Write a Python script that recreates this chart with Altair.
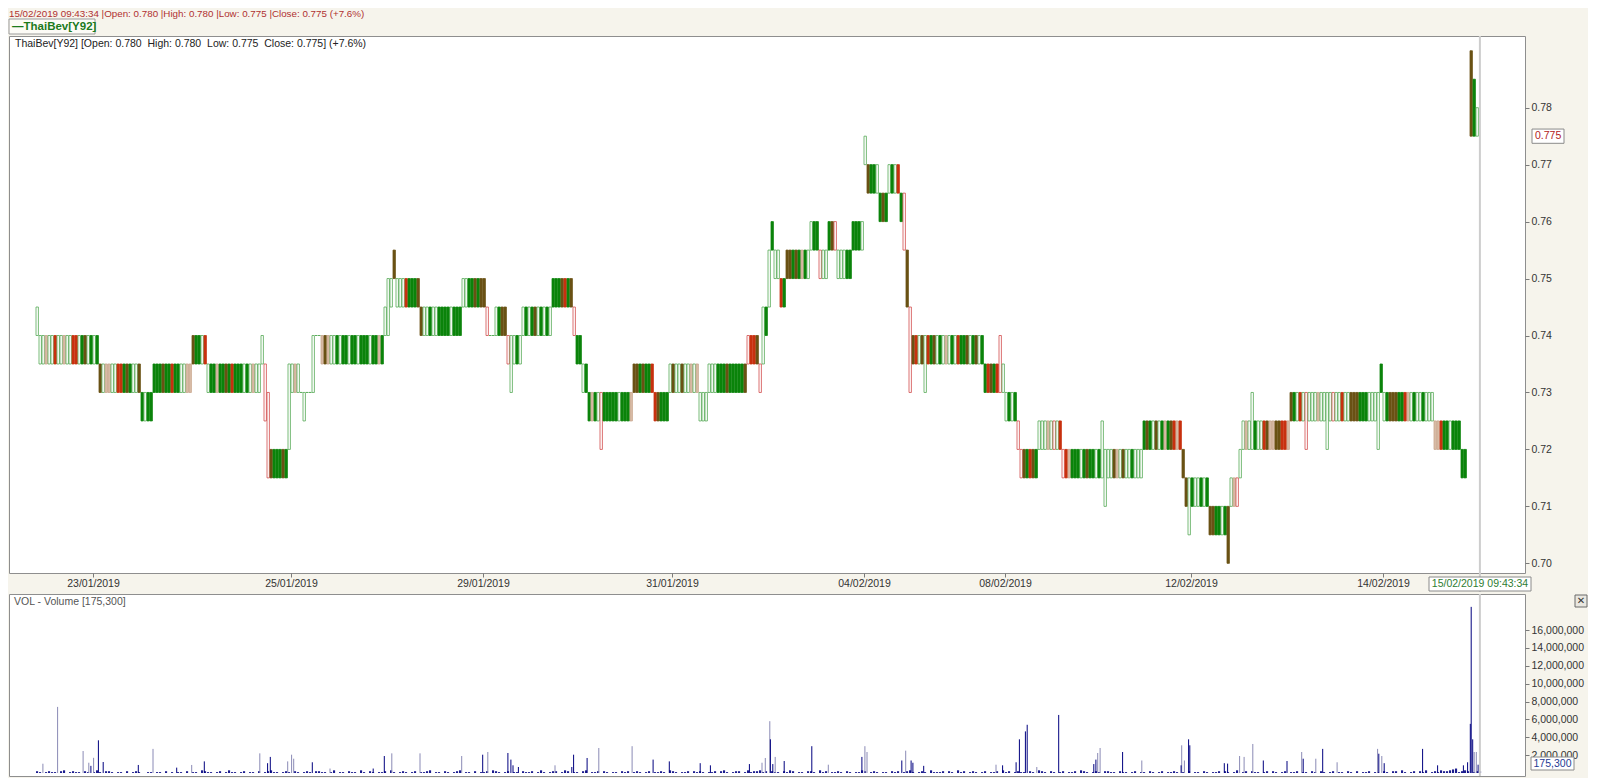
import altair as alt
import pandas as pd

# ---------------- layout (pixels) ----------------
W_PLOT = 1516
H_PRICE = 537
H_VOL = 182
FONT = "Liberation Sans"

# ---------------- texts ----------------
header_text = "15/02/2019 09:43:34 |Open: 0.780 |High: 0.780 |Low: 0.775 |Close: 0.775 (+7.6%)"
legend_text = "\u2014ThaiBev[Y92]"
info_text = "ThaiBev[Y92] [Open: 0.780\u00a0\u00a0High: 0.780\u00a0\u00a0Low: 0.775\u00a0\u00a0Close: 0.775] (+7.6%)"
vol_text = "VOL - Volume [175,300]"
last_time_text = "15/02/2019 09:43:34"
last_close = 0.775
last_volume_text = "175,300"

# ---------------- x axis (bar slots) ----------------
date_tick_slot = [29, 95, 159, 222, 286, 333, 395, 459]
date_tick_label = ["23/01/2019", "25/01/2019", "29/01/2019", "31/01/2019",
                   "04/02/2019", "08/02/2019", "12/02/2019", "14/02/2019"]
cursor_slot = [491.3]

price_ticks = [0.70, 0.71, 0.72, 0.73, 0.74, 0.75, 0.76, 0.77, 0.78]
volume_ticks = [2e6, 4e6, 6e6, 8e6, 10e6, 12e6, 14e6, 16e6]

# ---------------- price bars: runs of consecutive bars ----------------
# codes: G green, O olive, R red, T tan, W white/green outline, L white/red outline
run_start = [
    10, 11, 31, 45, 49, 62, 67, 85, 86, 87,
    88, 94, 95, 98, 99, 100, 102, 103, 105, 126,
    127, 128, 129, 130, 132, 138, 152, 160, 161, 163,
    167, 168, 169, 172, 182, 189, 190, 192, 194, 198,
    199, 209, 216, 221, 231, 234, 237, 247, 251, 252,
    253, 254, 255, 256, 258, 260, 268, 271, 274, 277,
    282, 286, 287, 291, 294, 298, 299, 300, 301, 302,
    306, 307, 326, 331, 332, 333, 337, 338, 344, 352,
    365, 366, 367, 379, 392, 393, 394, 395, 401, 407,
    408, 411, 412, 415, 416, 428, 433, 434, 440, 441,
    457, 458, 459, 476, 485, 488, 489, 490,
]
run_low = [
    .740, .735, .730, .725, .730, .735, .730, .735, .725, .715,
    .715, .720, .730, .730, .725, .730, .730, .740, .735, .740,
    .740, .745, .750, .745, .745, .740, .745, .740, .740, .740,
    .735, .730, .735, .740, .745, .740, .735, .730, .725, .720,
    .725, .730, .725, .730, .725, .730, .730, .735, .730, .735,
    .740, .745, .755, .750, .745, .750, .755, .750, .755, .750,
    .755, .770, .765, .760, .765, .760, .755, .745, .730, .735,
    .730, .735, .730, .730, .730, .725, .720, .715, .720, .715,
    .715, .710, .715, .720, .715, .710, .705, .710, .705, .700,
    .710, .715, .720, .720, .720, .725, .720, .725, .720, .725,
    .720, .730, .725, .720, .715, .775, .775, .775,
]
run_high = [
    .745, .740, .735, .730, .735, .740, .735, .740, .735, .730,
    .720, .735, .735, .730, .730, .730, .740, .740, .740, .745,
    .750, .750, .755, .750, .750, .745, .750, .745, .740, .745,
    .740, .740, .740, .745, .750, .745, .740, .735, .730, .730,
    .730, .735, .730, .735, .730, .735, .735, .740, .735, .745,
    .745, .755, .760, .755, .750, .755, .760, .755, .760, .755,
    .760, .775, .770, .765, .770, .765, .765, .755, .745, .740,
    .740, .740, .735, .740, .735, .730, .725, .720, .725, .720,
    .725, .720, .720, .725, .720, .715, .715, .715, .710, .710,
    .715, .720, .725, .730, .725, .730, .730, .730, .730, .730,
    .730, .735, .730, .725, .720, .790, .785, .780,
]
run_bars = [
    "W", "WWTWWRWWTWWRRWGOWGWG", "OWTTWWRRGOGWWO", "GWGG", "GGGOGGRGGWWTT",
    "OGGWR", "WGGTGGOGRGGGWGWTWW", "W", "L", "L",
    "OGGGOG", "W", "WTW", "W", "W", "WW", "W", "WW", "TOTWWGWGGWGGWGGGWGGTG", "W",
    "W", "W", "O", "WW", "WRGGGO", "OWWGWWGGGGWGGG", "WWGGOGOO", "L", "WW", "WGOO",
    "L", "W", "WGW", "WGWGOWGWGW", "GGGORGO", "L", "GG", "WG", "GTGW", "L",
    "GGGGGWGGGT", "OOGOGGR", "ROGGG", "WOWWOWWTWT", "WWW", "WWW", "GGGOGGGGGO", "LRRO", "L", "W",
    "G", "W", "G", "WW", "RG", "OOGOGTGW", "WGG", "LWW", "GOL", "WWWGG",
    "GGGW", "W", "OGGW", "GOG", "WGWR", "G", "L", "O", "L", "ORWO",
    "W", "RGOWGWTWGWRGGOWGOWG", "GROGR", "L", "W", "WGWG", "L", "LOGROG", "WWWTWLWR", "LRTGGGWGOGGWG",
    "W", "W", "WWOTWOWWGWWW", "GOGWOWGTGORTR", "O", "O", "W", "GWWGWG", "OOGGWG", "O",
    "WTL", "W", "WTW", "W", "GWWROTTOORRT", "OGWRW", "L", "WWWTWW", "W", "WLWWRWWOOOGGGWWW",
    "W", "G", "WGOOOGGRTWGWWGWWW", "TTRGGWGGG", "GG", "O", "G", "W",
]

bar_codes = ["G", "O", "R", "T", "W", "L"]
bar_fill = ["#0B840B", "#6A5214", "#C8310F", "#D9BDA8", "#FFFFFF", "#FFFFFF"]
bar_stroke = ["#0B840B", "#6A5214", "#C8310F", "#C8A48C", "#55A955", "#D24C4C"]

# ---------------- volume ----------------
# small per-bar volumes, tenths of a million, starting at slot 10
vol_small_digits = (
    "210121102301211021013102210110201210011011020101102011032110"
    "120131101201102012311012102101210221101301102110310210112031"
    "012101201123011021012301102011203210120110211201310122013201"
    "102301120210110212012101201121032101120212101120231012201312"
    "231202110213201102210312011210210113201210110212012310121031"
    "112021031201210120112031201211021032102101201120321012102211"
    "021101201102101201121010201102101120210130120211012021012011"
    "20110210210120110210201120110210220310120213012132234512320122"
)
vol_small_start = 10

vol_slot = [
    12.3, 17.2, 25.7, 27.6, 28.3, 29.2, 30.8, 32.4, 44.1, 49.0,
    56.9, 61.9, 66.1, 84.6, 87.2, 88.1, 93.9, 95.2, 95.9, 102.1,
    108.0, 122.4, 126.1, 128.6, 138.0, 151.9, 158.9, 160.6, 167.3, 168.3,
    169.0, 170.8, 183.0, 188.6, 189.2, 193.7, 197.6, 208.7, 215.7, 221.1,
    231.4, 234.8, 247.8, 252.0, 253.1, 254.6, 254.8, 255.6, 256.4, 259.4,
    268.6, 274.1, 285.3, 286.3, 287.0, 298.6, 299.9, 301.7, 302.3, 305.9,
    330.0, 332.2, 336.7, 337.8, 339.8, 340.4, 343.6, 350.9, 362.6, 363.3,
    363.9, 364.7, 372.2, 378.6, 391.7, 391.9, 392.8, 394.2, 394.6, 406.1,
    407.2, 411.2, 412.7, 415.6, 419.1, 427.0, 431.9, 432.4, 436.6, 438.9,
    443.7, 457.2, 457.6, 458.6, 459.4, 472.2, 477.2, 485.8, 487.2, 488.1,
    488.4, 488.9, 489.4, 490.1, 490.7,
]
vol_million = [
    1.04, 7.4, 2.46, 1.15, 0.8, 1.7, 3.66, 1.23, 0.9, 2.7,
    0.6, 0.9, 1.3, 2.2, 1.1, 1.8, 1.3, 2.05, 1.6, 1.2,
    0.5, 0.5, 1.9, 2.2, 2.2, 1.9, 2.05, 2.35, 2.24, 1.5,
    0.86, 0.67, 0.86, 0.67, 2.05, 1.68, 2.8, 3.0, 1.5, 1.3,
    1.1, 0.86, 1.0, 1.15, 1.68, 5.8, 3.77, 1.0, 1.8, 1.34,
    3.0, 0.93, 1.8, 3.0, 2.35, 1.4, 2.5, 1.4, 1.15, 0.8,
    0.93, 0.86, 1.2, 3.77, 4.66, 5.4, 0.67, 6.5, 1.0, 1.5,
    2.24, 2.8, 2.35, 1.4, 0.86, 3.1, 1.4, 3.77, 3.1, 1.1,
    1.05, 1.9, 1.8, 3.25, 1.4, 1.34, 2.35, 1.6, 1.6, 2.7,
    1.2, 2.7, 2.16, 1.9, 1.1, 2.7, 0.86, 0.86, 1.2, 5.5,
    18.6, 3.77, 2.35, 2.35, 0.93,
]
vol_tone = [
    "G", "G", "G", "G", "N", "G", "N", "N", "N", "G",
    "N", "G", "N", "G", "N", "N", "G", "G", "G", "N",
    "G", "N", "N", "G", "G", "G", "N", "G", "N", "N",
    "N", "N", "G", "N", "N", "N", "G", "G", "N", "N",
    "N", "N", "N", "G", "G", "G", "N", "N", "G", "N",
    "N", "G", "N", "G", "G", "N", "G", "N", "N", "N",
    "G", "N", "N", "N", "N", "N", "G", "N", "N", "N",
    "G", "G", "N", "G", "N", "G", "G", "N", "N", "N",
    "N", "G", "G", "G", "N", "N", "G", "N", "G", "N",
    "G", "G", "N", "G", "N", "N", "N", "N", "N", "N",
    "N", "N", "G", "G", "N",
]

# ---------------- build tables ----------------
rows = []
for s, lo, hi, pat in zip(run_start, run_low, run_high, run_bars):
    for i, ch in enumerate(pat):
        rows.append({"slot": s + i, "low": lo, "high": hi, "code": ch})
price_df = pd.DataFrame(rows)

small_df = pd.DataFrame({
    "slot": [vol_small_start + i for i in range(len(vol_small_digits))],
    "v": [int(d) * 1e5 for d in vol_small_digits],
})
small_df = small_df[small_df["v"] > 0]

spike_df = pd.DataFrame({"slot": vol_slot, "v": [m * 1e6 for m in vol_million], "tone": vol_tone})

# ---------------- scales / axes ----------------
x_dom = [1, 1 + W_PLOT / 3]
xscale = alt.Scale(domain=x_dom, nice=False, zero=False)
pscale = alt.Scale(domain=[0.6983, 0.79259], nice=False, zero=False)
vscale = alt.Scale(domain=[-0.336e6, 20.04e6], nice=False, zero=False)

label_expr = " : ".join(
    f"datum.value == {s} ? '{l}'" for s, l in zip(date_tick_slot, date_tick_label)
) + " : ''"

x_axis = alt.Axis(values=date_tick_slot, labelExpr=label_expr, tickSize=4, domain=False,
                  grid=False, labelFontSize=10.5, labelColor="#333333", tickColor="#7A7A7A",
                  labelPadding=1, labelFlush=False, labelOverlap=False, labelFont=FONT)
p_axis = alt.Axis(orient="right", values=price_ticks, format=".2f", tickSize=4, domain=False,
                  grid=False, labelFontSize=10.5, labelColor="#333333", tickColor="#7A7A7A",
                  labelPadding=2, labelOverlap=False, labelFont=FONT)
v_axis = alt.Axis(orient="right", values=volume_ticks, format=",.0f", tickSize=4, domain=False,
                  grid=False, labelFontSize=10.5, labelColor="#333333", tickColor="#7A7A7A",
                  labelPadding=2, labelOverlap=False, labelFont=FONT)

one = pd.DataFrame({"k": [0]})

# ---------------- price panel ----------------
bars = alt.Chart(price_df).transform_calculate(slot_end="datum.slot + 0.8").mark_rect(
    strokeWidth=0.8
).encode(
    x=alt.X("slot:Q", scale=xscale, axis=x_axis, title=None),
    x2="slot_end:Q",
    y=alt.Y("low:Q", scale=pscale, axis=p_axis, title=None),
    y2="high:Q",
    fill=alt.Fill("code:N", scale=alt.Scale(domain=bar_codes, range=bar_fill), legend=None),
    stroke=alt.Stroke("code:N", scale=alt.Scale(domain=bar_codes, range=bar_stroke), legend=None),
)

cursor_p = alt.Chart(pd.DataFrame({"slot": cursor_slot})).mark_rule(
    color="#CDCDCD", strokeWidth=2, clip=False
).encode(x=alt.X("slot:Q", axis=x_axis, title=None), y=alt.value(0), y2=alt.value(H_PRICE + 19))

header = alt.Chart(pd.DataFrame({"t": [header_text]})).mark_text(
    align="left", baseline="top", fontSize=9.8, color="#B03030", font=FONT, clip=False
).encode(x=alt.value(0), y=alt.value(-27), text="t:N")

legend_box = alt.Chart(one).mark_rect(fill="#FCFBF6", stroke="#9A9A9A", strokeWidth=1, clip=False).encode(
    x=alt.value(0), x2=alt.value(86), y=alt.value(-17), y2=alt.value(-2))
legend_lbl = alt.Chart(pd.DataFrame({"t": [legend_text]})).mark_text(
    align="left", baseline="middle", fontSize=11.5, fontWeight="bold", color="#1C7A1C", font=FONT, clip=False
).encode(x=alt.value(3), y=alt.value(-9), text="t:N")

info = alt.Chart(pd.DataFrame({"t": [info_text]})).mark_text(
    align="left", baseline="middle", fontSize=10.5, color="#222222", font=FONT
).encode(x=alt.value(6), y=alt.value(8), text="t:N")

tag_df = pd.DataFrame({"close": [last_close], "label": [f"{last_close:.3f}"]})
tag_box = alt.Chart(tag_df).transform_calculate(
    lo="datum.close - 0.00125", hi="datum.close + 0.00125"
).mark_rect(fill="white", stroke="#8A8A8A", strokeWidth=1, clip=False).encode(
    x=alt.value(W_PLOT + 7), x2=alt.value(W_PLOT + 39),
    y=alt.Y("lo:Q", axis=p_axis, title=None), y2="hi:Q")
tag_txt = alt.Chart(tag_df).mark_text(
    align="left", baseline="middle", fontSize=10.5, color="#B22222", font=FONT, clip=False
).encode(x=alt.value(W_PLOT + 10), y=alt.Y("close:Q", axis=p_axis, title=None), text="label:N")

date_box = alt.Chart(one).mark_rect(fill="white", stroke="#8A8A8A", strokeWidth=1, clip=False).encode(
    x=alt.value(W_PLOT - 96), x2=alt.value(W_PLOT + 6), y=alt.value(H_PRICE + 4), y2=alt.value(H_PRICE + 18))
date_txt = alt.Chart(pd.DataFrame({"t": [last_time_text]})).mark_text(
    align="center", baseline="middle", fontSize=10.5, color="#2E7D32", font=FONT, clip=False
).encode(x=alt.value(W_PLOT - 45), y=alt.value(H_PRICE + 11), text="t:N")

price = alt.layer(
    bars, cursor_p, header, legend_box, legend_lbl, info, tag_box, tag_txt, date_box, date_txt
).properties(width=W_PLOT, height=H_PRICE)

# ---------------- volume panel ----------------
small = alt.Chart(small_df).transform_calculate(slot_end="datum.slot + 0.7").mark_rect(
    color="#1C1C8E"
).encode(
    x=alt.X("slot:Q", scale=xscale, axis=None, title=None),
    x2="slot_end:Q",
    y=alt.Y("v:Q", scale=vscale, axis=v_axis, title=None),
    y2=alt.datum(0),
)
spikes_g = alt.Chart(spike_df).transform_filter("datum.tone == 'G'").mark_rule(
    color="#8A8AB6", strokeWidth=1
).encode(x=alt.X("slot:Q", axis=None, title=None), y=alt.Y("v:Q", axis=v_axis, title=None),
         y2=alt.datum(0))
spikes_n = alt.Chart(spike_df).transform_filter("datum.tone == 'N'").mark_rule(
    color="#00007F", strokeWidth=1
).encode(x=alt.X("slot:Q", axis=None, title=None), y=alt.Y("v:Q", axis=v_axis, title=None),
         y2=alt.datum(0))

cursor_v = alt.Chart(pd.DataFrame({"slot": cursor_slot})).mark_rule(
    color="#CDCDCD", strokeWidth=2
).encode(x=alt.X("slot:Q", axis=None, title=None), y=alt.value(0), y2=alt.value(H_VOL))

vol_lbl = alt.Chart(pd.DataFrame({"t": [vol_text]})).mark_text(
    align="left", baseline="middle", fontSize=10.5, color="#555555", font=FONT
).encode(x=alt.value(5), y=alt.value(8), text="t:N")

vbox = alt.Chart(one).mark_rect(fill="white", stroke="#8A8A8A", strokeWidth=1, clip=False).encode(
    x=alt.value(W_PLOT + 6), x2=alt.value(W_PLOT + 49), y=alt.value(H_VOL - 19), y2=alt.value(H_VOL - 6))
vbox_txt = alt.Chart(pd.DataFrame({"t": [last_volume_text]})).mark_text(
    align="center", baseline="middle", fontSize=10.5, color="#1F3A93", font=FONT, clip=False
).encode(x=alt.value(W_PLOT + 27.5), y=alt.value(H_VOL - 12.5), text="t:N")

close_box = alt.Chart(one).mark_rect(fill="#E9E7E0", stroke="#6A6A6A", strokeWidth=1, clip=False).encode(
    x=alt.value(W_PLOT + 50), x2=alt.value(W_PLOT + 62), y=alt.value(1), y2=alt.value(13))
close_txt = alt.Chart(pd.DataFrame({"t": ["\u2715"]})).mark_text(
    align="center", baseline="middle", fontSize=10, color="#333333", font="DejaVu Sans", clip=False
).encode(x=alt.value(W_PLOT + 56), y=alt.value(7), text="t:N")

volume = alt.layer(
    small, spikes_g, spikes_n, cursor_v, vol_lbl, vbox, vbox_txt, close_box, close_txt
).properties(width=W_PLOT, height=H_VOL)

chart = alt.vconcat(price, volume, spacing=-4).properties(
    padding=0, background="#F6F4EC"
).configure(
    font=FONT,
    view=alt.ViewConfig(fill="white", stroke="#8E8E8E", strokeWidth=1),
    axis=alt.AxisConfig(labelOverlap=False),
)

chart.save("out.html", embed_options={"renderer": "svg", "actions": False})
